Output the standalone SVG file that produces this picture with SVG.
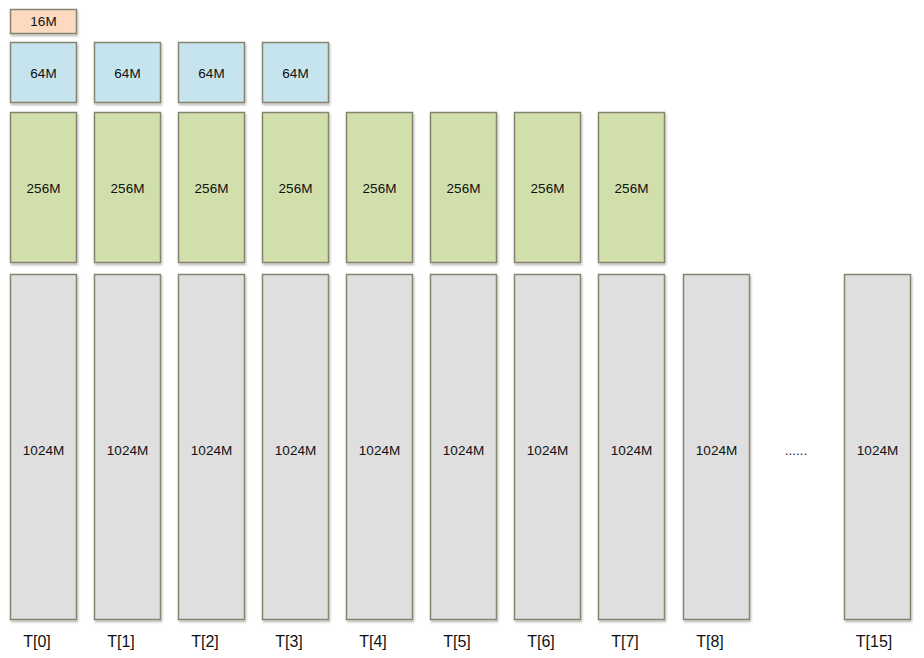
<svg xmlns="http://www.w3.org/2000/svg" width="924" height="658" viewBox="0 0 924 658">
<defs>
<filter id="sh" x="-10%" y="-10%" width="130%" height="130%"><feDropShadow dx="1" dy="2" stdDeviation="1.2" flood-color="#000" flood-opacity="0.25"/></filter>
<style>
rect{stroke:#86846f;stroke-width:1.5;filter:url(#sh)}
.p{fill:#fcd9bf}.b{fill:#c5e4ed}.g{fill:#d1dfab}.y{fill:#dfdfdf}
text{font-family:"Liberation Sans",Arial,sans-serif;font-size:13.5px;fill:#111;text-anchor:middle;dominant-baseline:central}
.l{font-size:16px}
</style>
</defs>
<rect width="924" height="658" fill="#fff" style="stroke:none;filter:none"/>
<g id="n16"><rect class="p" x="10.5" y="9.5" width="66" height="24"/><text x="43.5" y="21.5">16M</text></g>
<g id="n64">
<g id="b64_0"><rect class="b" x="10.5" y="42.5" width="66" height="60"/><text x="43.5" y="73">64M</text></g>
<g id="b64_1"><rect class="b" x="94.5" y="42.5" width="66" height="60"/><text x="127.5" y="73">64M</text></g>
<g id="b64_2"><rect class="b" x="178.5" y="42.5" width="66" height="60"/><text x="211.5" y="73">64M</text></g>
<g id="b64_3"><rect class="b" x="262.5" y="42.5" width="66" height="60"/><text x="295.5" y="73">64M</text></g>
</g>
<g id="n256">
<g id="b256_0"><rect class="g" x="10.5" y="112.5" width="66" height="150"/><text x="43.5" y="188">256M</text></g>
<g id="b256_1"><rect class="g" x="94.5" y="112.5" width="66" height="150"/><text x="127.5" y="188">256M</text></g>
<g id="b256_2"><rect class="g" x="178.5" y="112.5" width="66" height="150"/><text x="211.5" y="188">256M</text></g>
<g id="b256_3"><rect class="g" x="262.5" y="112.5" width="66" height="150"/><text x="295.5" y="188">256M</text></g>
<g id="b256_4"><rect class="g" x="346.5" y="112.5" width="66" height="150"/><text x="379.5" y="188">256M</text></g>
<g id="b256_5"><rect class="g" x="430.5" y="112.5" width="66" height="150"/><text x="463.5" y="188">256M</text></g>
<g id="b256_6"><rect class="g" x="514.5" y="112.5" width="66" height="150"/><text x="547.5" y="188">256M</text></g>
<g id="b256_7"><rect class="g" x="598.5" y="112.5" width="66" height="150"/><text x="631.5" y="188">256M</text></g>
</g>
<g id="n1024">
<g id="b1024_0"><rect class="y" x="10.5" y="274.5" width="66" height="345"/><text x="43.5" y="450">1024M</text></g>
<g id="b1024_1"><rect class="y" x="94.5" y="274.5" width="66" height="345"/><text x="127.5" y="450">1024M</text></g>
<g id="b1024_2"><rect class="y" x="178.5" y="274.5" width="66" height="345"/><text x="211.5" y="450">1024M</text></g>
<g id="b1024_3"><rect class="y" x="262.5" y="274.5" width="66" height="345"/><text x="295.5" y="450">1024M</text></g>
<g id="b1024_4"><rect class="y" x="346.5" y="274.5" width="66" height="345"/><text x="379.5" y="450">1024M</text></g>
<g id="b1024_5"><rect class="y" x="430.5" y="274.5" width="66" height="345"/><text x="463.5" y="450">1024M</text></g>
<g id="b1024_6"><rect class="y" x="514.5" y="274.5" width="66" height="345"/><text x="547.5" y="450">1024M</text></g>
<g id="b1024_7"><rect class="y" x="598.5" y="274.5" width="66" height="345"/><text x="631.5" y="450">1024M</text></g>
<g id="b1024_8"><rect class="y" x="683.5" y="274.5" width="66" height="345"/><text x="716.5" y="450">1024M</text></g>
<g id="b1024_15"><rect class="y" x="844.5" y="274.5" width="66" height="345"/><text x="877.5" y="450">1024M</text></g>
<text x="796" y="450">......</text>
</g>
<g id="labels">
<text class="l" x="37" y="641">T[0]</text>
<text class="l" x="121" y="641">T[1]</text>
<text class="l" x="205" y="641">T[2]</text>
<text class="l" x="289" y="641">T[3]</text>
<text class="l" x="373" y="641">T[4]</text>
<text class="l" x="457" y="641">T[5]</text>
<text class="l" x="541" y="641">T[6]</text>
<text class="l" x="625" y="641">T[7]</text>
<text class="l" x="710" y="641">T[8]</text>
<text class="l" x="874" y="641">T[15]</text>
</g>
<g id="connectors"/>
</svg>
